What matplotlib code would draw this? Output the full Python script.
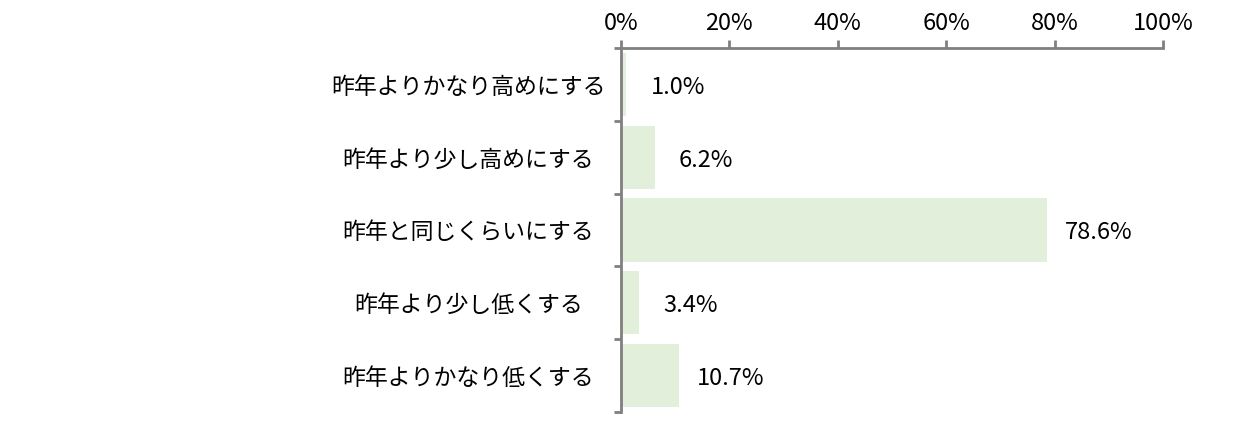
import matplotlib.pyplot as plt
from matplotlib.ticker import PercentFormatter

categories = ['昨年よりかなり高めにする', '昨年より少し高めにする', '昨年と同じくらいにする',
              '昨年より少し低くする', '昨年よりかなり低くする']
values = [1.0, 6.2, 78.6, 3.4, 10.7]
xticks = [0, 20, 40, 60, 80, 100]

plt.rcParams['font.family'] = ['Noto Sans CJK JP', 'DejaVu Sans']

fig = plt.figure(figsize=(12.43, 4.21), dpi=100)
ax = fig.add_axes([0.4996, 0.022, 0.436, 0.863])

pos = list(range(len(categories)))
ax.barh(pos, values, height=0.87, color='#e2efda')
ax.set_ylim(len(categories) - 0.5, -0.5)
ax.set_xlim(0, 100)

for p, v in zip(pos, values):
    ax.annotate(f'{v:.1f}%', (v, p), xytext=(37, -2), textcoords='offset points',
                ha='center', va='center', fontsize=17, color='black')

# category labels
for p, c in zip(pos, categories):
    ax.annotate(c, (0, p), xycoords=('axes fraction', 'data'), xytext=(-110, -2),
                textcoords='offset points', ha='center', va='center', fontsize=16.5)

ax.xaxis.tick_top()
ax.set_xticks(xticks)
ax.xaxis.set_major_formatter(PercentFormatter(decimals=0))
ax.tick_params(axis='x', direction='out', length=6, width=2, color='#808080',
               labelsize=17, pad=4)
ax.set_yticks([i - 0.5 for i in range(len(categories) + 1)])
ax.set_yticklabels([])
ax.tick_params(axis='y', direction='out', length=5, width=2, color='#808080')

for s in ['right', 'bottom']:
    ax.spines[s].set_visible(False)
for s in ['top', 'left']:
    ax.spines[s].set_color('#808080')
    ax.spines[s].set_linewidth(2)

fig.savefig('out.png', dpi=100)
